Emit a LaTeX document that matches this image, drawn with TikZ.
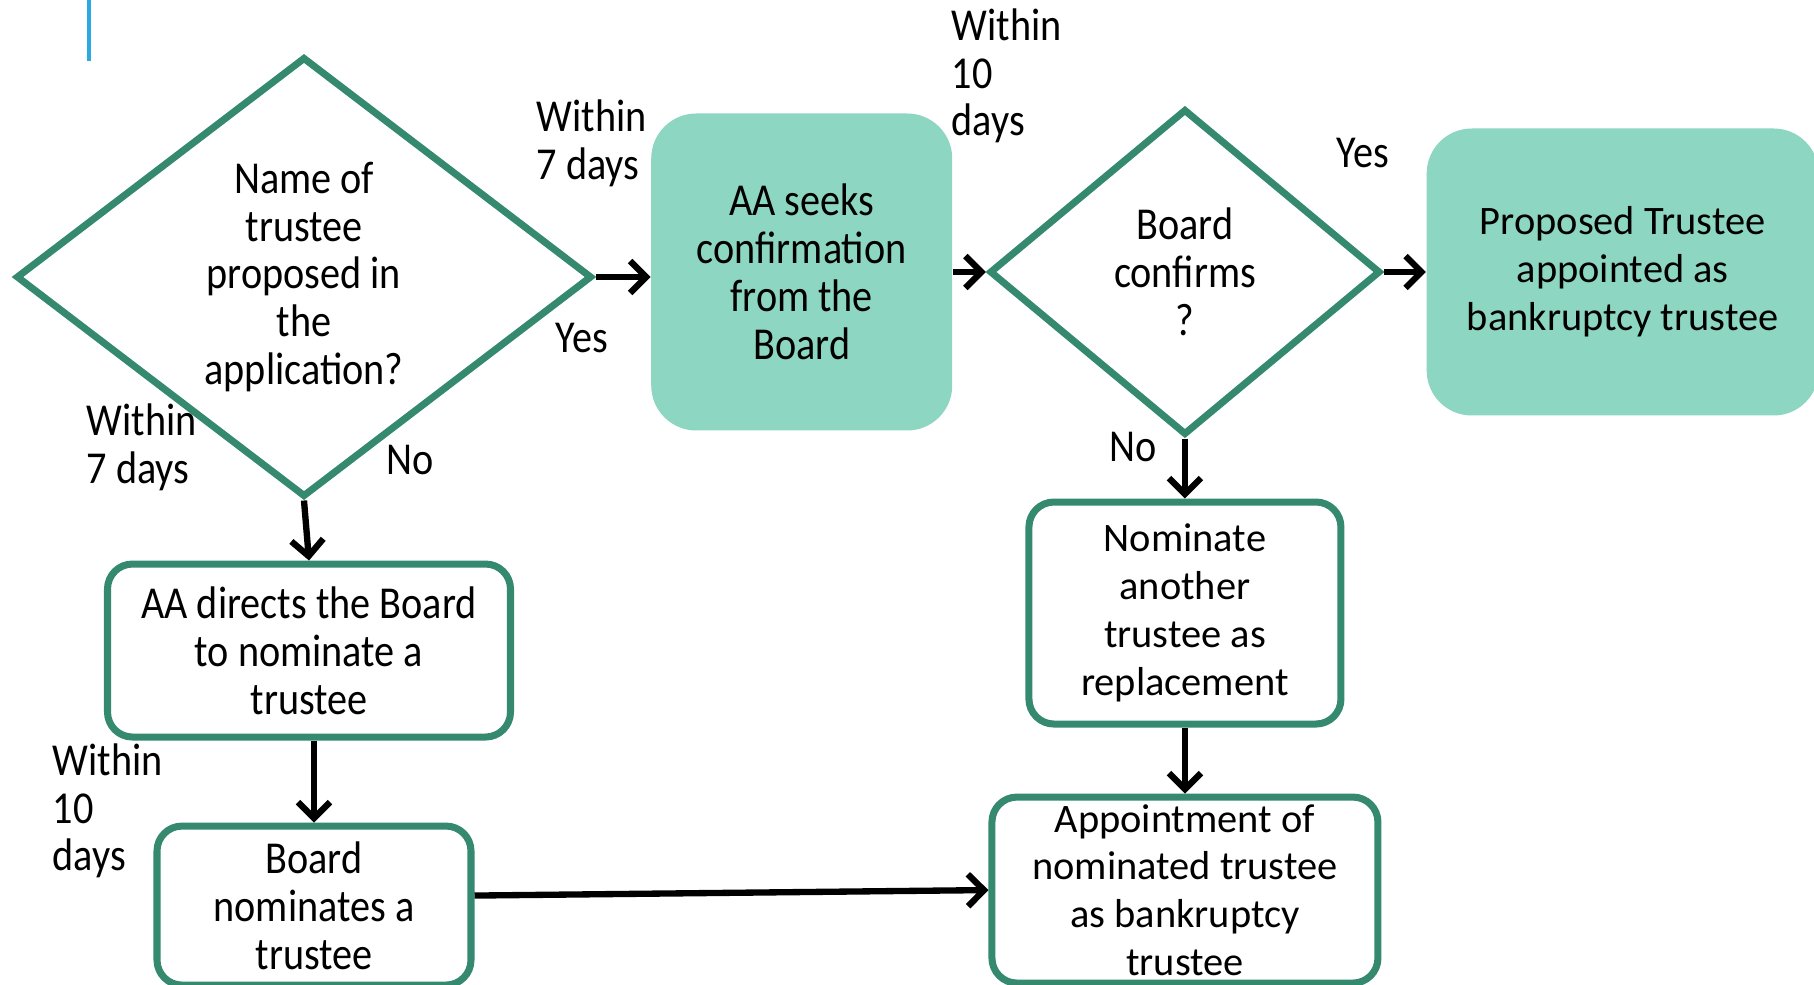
\documentclass[tikz,border=0pt]{standalone}
\usepackage{fontspec}
\setmainfont{Carlito}
\newfontfamily\narrowfont[FakeStretch=0.88]{Carlito}
\usetikzlibrary{arrows.meta, positioning, shapes.geometric}
\definecolor{tgreen}{HTML}{35896E}
\definecolor{tfill}{HTML}{8DD6C1}
\definecolor{tblue}{HTML}{29ABE2}

\begin{document}
\begin{tikzpicture}[
  font=\narrowfont\fontsize{13}{13.6}\selectfont,
  decision/.style={diamond, draw=tgreen, line width=2pt, inner sep=0pt, align=center},
  filledbox/.style={rectangle, rounded corners=0.45cm, fill=tfill, inner sep=0pt, align=center},
  outlinebox/.style={rectangle, rounded corners=0.25cm, draw=tgreen, line width=2pt, fill=white, inner sep=0pt, align=center},
  widetext/.style={font=\rmfamily\fontsize{11.5}{13.6}\selectfont},
  lbl/.style={inner sep=0pt, align=left, anchor=west},
  flow/.style={-{Straight Barb[length=0.16cm, width=0.32cm]}, line width=1.8pt, black},
]
\useasboundingbox (0,0) rectangle (18.14,-9.85);
\draw[tblue, line width=1.1pt] (0.89,0) -- (0.89,-0.61);

% top row
\node[decision, minimum width=5.76cm, minimum height=4.40cm] (name) at (3.04,-2.77) {Name of\\trustee\\proposed in\\the\\application?};
\node[filledbox, minimum width=3.01cm, minimum height=3.17cm, right=0.55cm of name, yshift=0.05cm] (seek) {AA seeks\\confirmation\\from the\\Board};
\node[decision, minimum width=3.91cm, minimum height=3.26cm, right=0.33cm of seek] (confirm) {Board\\confirms\\?};
\node[filledbox, widetext, minimum width=3.92cm, minimum height=2.87cm, right=0.42cm of confirm] (appointed) {Proposed Trustee\\appointed as\\bankruptcy trustee};

% left column
\node[outlinebox, minimum width=4.03cm, minimum height=1.73cm, below=0.60cm of name, xshift=0.05cm] (directs) {AA directs the Board\\to nominate a\\trustee};
\node[outlinebox, minimum width=3.14cm, minimum height=1.59cm, below=0.82cm of directs, xshift=0.05cm] (nominates) {Board\\nominates a\\trustee};

% right column
\node[outlinebox, widetext, minimum width=3.12cm, minimum height=2.22cm, below=0.60cm of confirm] (replace) {Nominate\\another\\trustee as\\replacement};
\node[outlinebox, widetext, minimum width=3.86cm, minimum height=1.86cm, below=0.66cm of replace] (final) {Appointment of\\nominated trustee\\as bankruptcy\\trustee};

% labels
\node[lbl] (t7a) at (5.36,-1.43) {Within\\7 days};
\node[lbl] (t7b) at (0.86,-4.47) {Within\\7 days};
\node[lbl] (t10a) at (9.51,-0.76) {Within\\10\\days};
\node[lbl] (t10b) at (0.52,-8.11) {Within\\10\\days};
\node[inner sep=0pt] (yes1) at (5.82,-3.38) {Yes};
\node[inner sep=0pt] (no1) at (4.10,-4.60) {No};
\node[inner sep=0pt] (yes2) at (13.63,-1.53) {Yes};
\node[inner sep=0pt] (no2) at (11.33,-4.47) {No};

% arrows
\draw[flow] (name.east) -- (name.east -| seek.west);
\draw[flow] (seek.east) -- (confirm.west);
\draw[flow] (confirm.east) -- (appointed.west);
\draw[flow] (confirm.south) -- (replace.north);
\draw[flow] (name.south) -- (directs.north);
\draw[flow] (directs.south -| nominates.north) -- (nominates.north);
\draw[flow] (replace.south) -- (final.north);
\draw[flow] ([yshift=0.1cm]nominates.east) -- (final.west);
\end{tikzpicture}
\end{document}
